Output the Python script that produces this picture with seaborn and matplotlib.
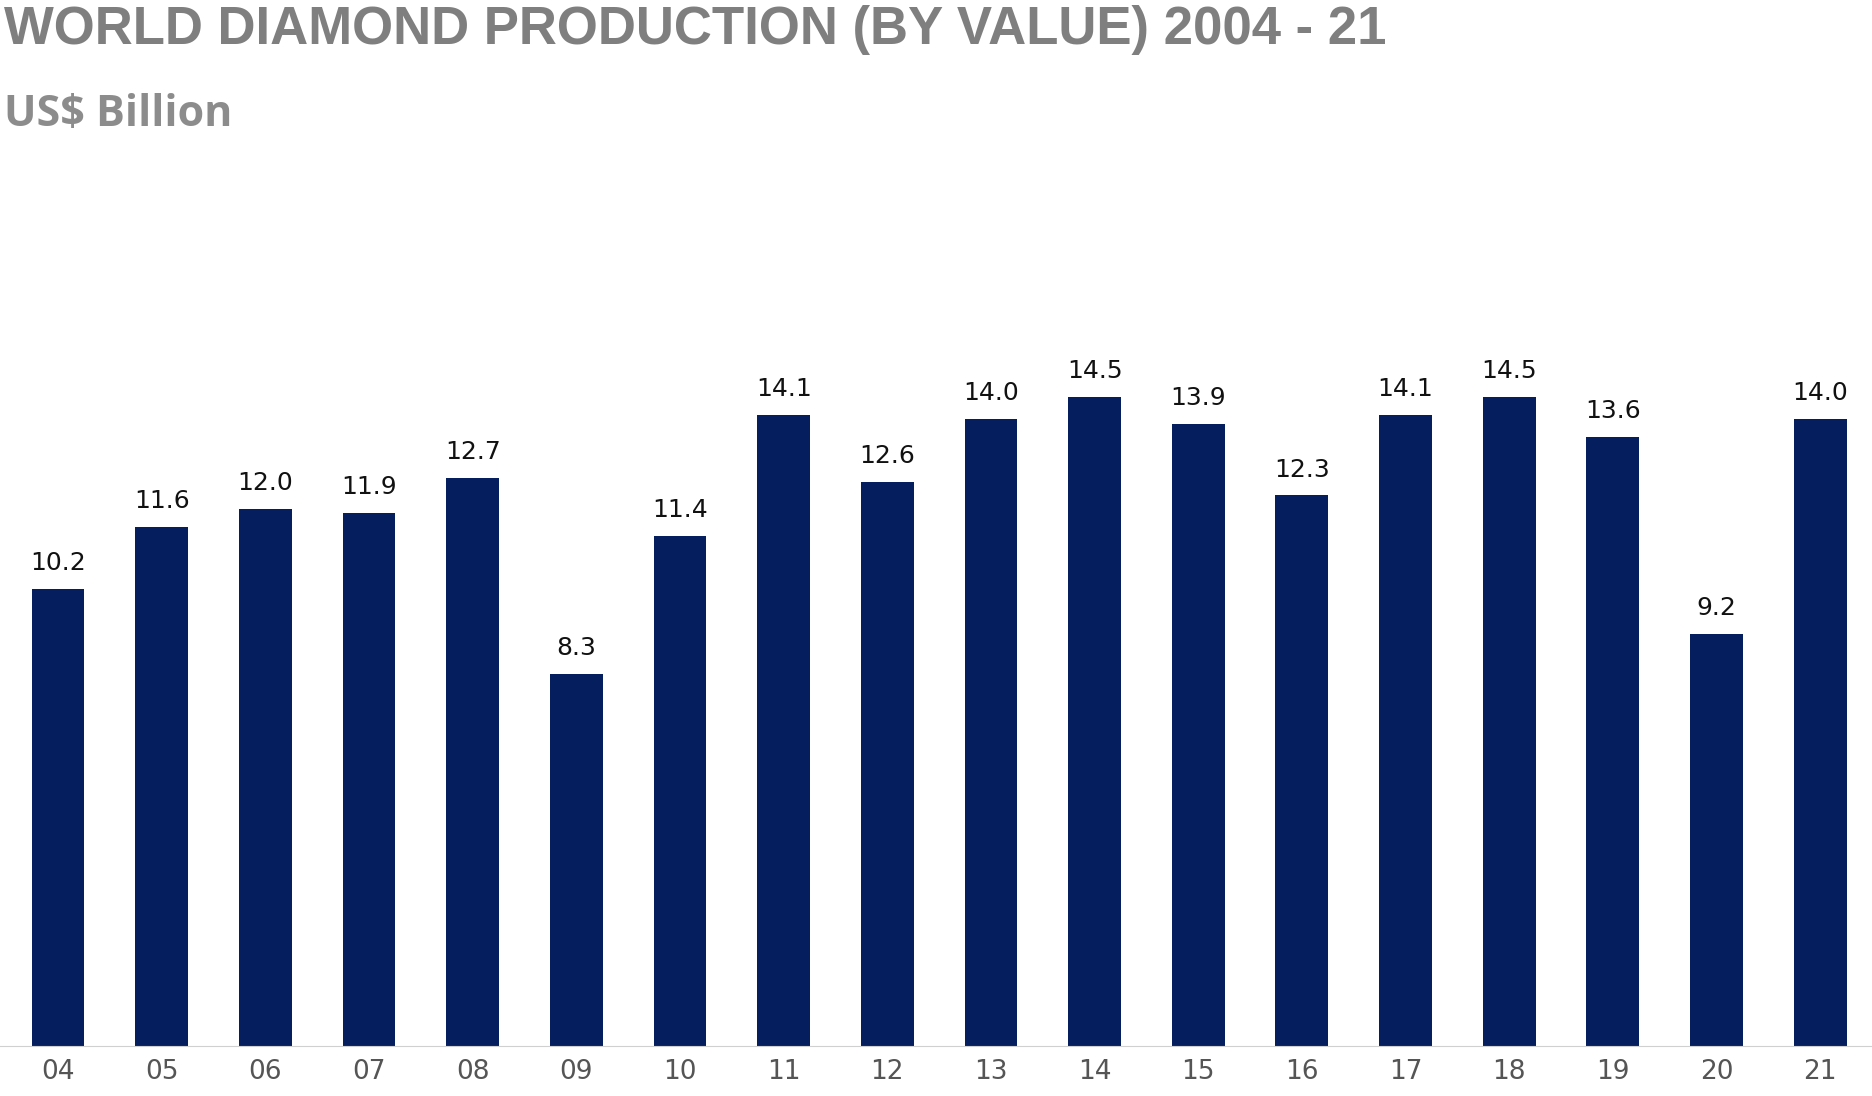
import pandas as pd
import seaborn as sns
import matplotlib.pyplot as plt

years = ["04", "05", "06", "07", "08", "09", "10", "11", "12",
         "13", "14", "15", "16", "17", "18", "19", "20", "21"]
values = [10.2, 11.6, 12.0, 11.9, 12.7, 8.3, 11.4, 14.1, 12.6,
          14.0, 14.5, 13.9, 12.3, 14.1, 14.5, 13.6, 9.2, 14.0]

df = pd.DataFrame({"year": years, "value": values})

plt.rcParams['font.family'] = 'DejaVu Sans'
fig = plt.figure(figsize=(18.72, 10.96), dpi=100)
ax = fig.add_axes([0.0, 0.046, 1.0, 0.653])

sns.barplot(data=df, x="year", y="value", color="#041E5E", saturation=1,
            width=0.51, ax=ax)
for c in ax.containers:
    ax.bar_label(c, fmt="%.1f", padding=10, fontsize=18, color="#111111")

ax.set_ylim(0, 16)
ax.set_xlim(-0.56, len(years) - 0.5)
ax.set_xlabel("")
ax.set_ylabel("")
ax.set_yticks([])
for s in ["top", "right", "left"]:
    ax.spines[s].set_visible(False)
ax.spines["bottom"].set_color("#D0D0D0")
ax.tick_params(axis='x', length=0, labelsize=19, colors="#555555", pad=10)

fig.text(0.002, 0.995, "WORLD DIAMOND PRODUCTION (BY VALUE) 2004 - 21",
         fontsize=38, color="#7F7F7F", fontweight="bold", va="top", ha="left",
         fontfamily="Liberation Sans")
fig.text(0.002, 0.915, "US$ Billion", fontsize=31, color="#8C8C8C",
         fontweight="bold", va="top", ha="left", fontfamily="Open Sans")

fig.savefig("out.png", dpi=100)
